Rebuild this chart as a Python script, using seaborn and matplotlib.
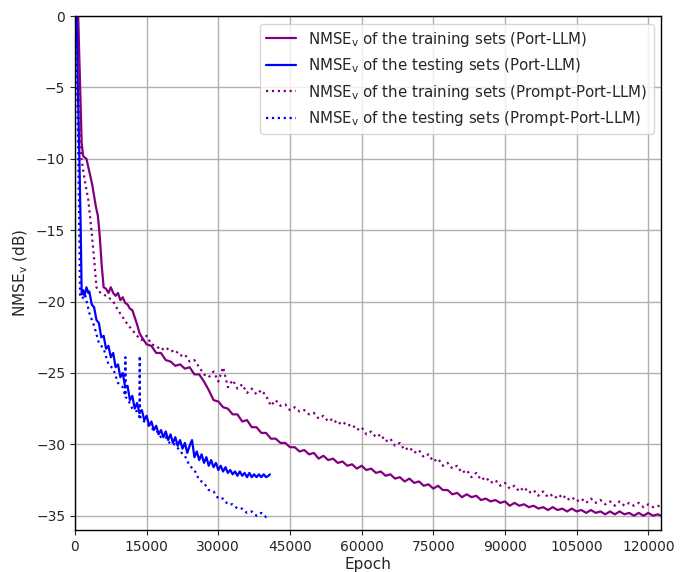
import matplotlib
matplotlib.use("Agg")
import matplotlib.pyplot as plt
import seaborn as sns
import pandas as pd

# ---------------- data ----------------
# Port-LLM, training sets (solid purple)
port_train_epoch = ([500, 1000, 1400, 1700, 2000, 2400, 2800, 3200, 3600, 4000, 4400, 4800, 5200, 5600,
                     6000, 6500, 7000, 7500, 8000, 8500, 9000, 9500, 10000, 10500, 11000, 11500, 12000,
                     12500, 13000, 13500] + list(range(14000, 123000, 1000)) + [122700])
port_train_nmse = [2.0, -4.0, -8.9, -9.8, -9.9, -10.0, -10.6, -11.2, -11.8, -12.6, -13.4, -14.0, -15.5, -17.5,
                   -19.0, -19.1, -19.4, -19.0, -19.4, -19.6, -19.4, -19.9, -19.7, -20.1, -20.2, -20.5, -20.6,
                   -21.1, -21.6, -22.2,
                   -22.5, -23.0, -23.1, -23.6, -23.6, -24.1, -24.2, -24.5, -24.4, -24.7,
                   -24.6, -25.1, -25.1, -25.6, -26.2, -26.9, -27.0, -27.4, -27.5, -27.9,
                   -27.9, -28.4, -28.3, -28.8, -28.8, -29.2, -29.2, -29.6, -29.6, -29.9,
                   -29.9, -30.2, -30.2, -30.5, -30.4, -30.7, -30.6, -31.0, -30.8, -31.1,
                   -31.0, -31.3, -31.2, -31.5, -31.4, -31.7, -31.5, -31.8, -31.7, -32.0,
                   -31.9, -32.2, -32.1, -32.4, -32.3, -32.6, -32.4, -32.7, -32.6, -32.9,
                   -32.8, -33.1, -32.9, -33.2, -33.2, -33.5, -33.4, -33.7, -33.5, -33.7,
                   -33.6, -33.9, -33.8, -34.0, -33.9, -34.1, -34.0, -34.3, -34.1, -34.3,
                   -34.2, -34.4, -34.3, -34.5, -34.4, -34.6, -34.4, -34.6, -34.5, -34.7,
                   -34.5, -34.7, -34.6, -34.8, -34.6, -34.8, -34.7, -34.9, -34.7, -34.9,
                   -34.7, -34.9, -34.8, -35.0, -34.8, -35.0, -34.8, -35.0, -34.9,
                   -35.0]

# Prompt-Port-LLM, training sets (dotted purple)
prompt_train_epoch = ([500, 800, 1000, 1300, 1800, 2300, 2800, 3200, 3500, 4000, 4500, 5000, 5500, 6000,
                       7000, 8000, 9000, 10000, 11000, 12000, 13000] + list(range(14000, 123000, 1000))
                      + [122700])
prompt_train_nmse = [2.0, -4.0, -8.0, -9.9, -11.0, -12.0, -12.9, -14.2, -15.2, -17.0, -19.0, -19.3, -19.4,
                     -19.5, -19.7, -20.0, -20.6, -21.1, -21.6, -22.0, -22.4,
                     -22.7, -22.4, -23.0, -23.1, -23.4, -23.2, -23.5, -23.4, -23.8, -23.7,
                     -24.2, -24.1, -24.6, -25.1, -25.3, -24.9, -25.6, -24.6, -26.0, -25.5,
                     -26.1, -25.8, -26.4, -26.1, -26.5, -26.2, -26.6, -27.3, -26.9, -27.3,
                     -27.2, -27.6, -27.4, -27.7, -27.6, -27.9, -27.8, -28.2, -28.0, -28.4,
                     -28.2, -28.6, -28.4, -28.7, -28.6, -29.0, -28.8, -29.3, -29.1, -29.5,
                     -29.3, -29.8, -29.6, -30.1, -29.9, -30.4, -30.2, -30.6, -30.4, -30.9,
                     -30.7, -31.2, -31.0, -31.5, -31.3, -31.7, -31.5, -32.0, -31.8, -32.3,
                     -32.0, -32.5, -32.3, -32.7, -32.5, -32.9, -32.7, -33.1, -32.9, -33.3,
                     -33.0, -33.4, -33.2, -33.6, -33.3, -33.7, -33.5, -33.8, -33.5, -33.9,
                     -33.7, -34.0, -33.8, -34.1, -33.8, -34.1, -33.9, -34.2, -34.0, -34.3,
                     -34.0, -34.3, -34.1, -34.3, -34.1, -34.4, -34.2, -34.4, -34.3,
                     -34.4]

# Port-LLM, testing sets (solid blue)
port_test_epoch = ([300, 600, 900, 1200, 1400, 1700, 2000, 2400, 2800] + list(range(3000, 41000, 500))
                   + [40800])
port_test_nmse = [2.0, -5.0, -9.6, -15.0, -19.5, -19.2, -19.6, -19.0, -19.4,
                  -19.3, -20.2, -20.4, -21.3, -21.5, -22.5, -22.4, -23.3, -23.1, -23.9,
                  -23.6, -24.6, -24.4, -25.3, -25.0, -26.0, -25.9, -26.9, -26.6, -27.5,
                  -27.1, -27.8, -27.6, -28.3, -28.0, -28.7, -28.4, -29.0, -28.7, -29.3,
                  -29.0, -29.5, -29.1, -29.7, -29.3, -29.9, -29.5, -30.1, -29.7, -30.3,
                  -29.9, -30.6, -30.1, -29.7, -30.9, -30.5, -31.1, -30.7, -31.3, -30.9,
                  -31.5, -31.1, -31.6, -31.3, -31.8, -31.5, -31.9, -31.6, -32.0, -31.8,
                  -32.1, -31.9, -32.2, -31.9, -32.2, -32.0, -32.3, -32.0, -32.3, -32.1,
                  -32.3, -32.1, -32.3, -32.1, -32.3, -32.2,
                  -32.1]

# Prompt-Port-LLM, testing sets (dotted blue)
prompt_test_epoch = [200, 400, 700, 900, 1050, 1500, 2100, 3000, 4000, 5000, 6000, 7000, 8000, 9000,
                     10000, 10500, 10550, 10600, 11000, 12000, 13000, 13500, 13550, 13600, 14000, 15000,
                     16000, 17000, 18000, 19000, 20000, 21000, 22000, 23000, 24000, 25000, 26000, 27000,
                     28000, 29000, 30000, 31000, 32000, 33000, 34000, 35000, 36000, 37000, 38000, 39000,
                     40000, 40800]
prompt_test_nmse = [2.0, -4.0, -9.9, -15.0, -19.5, -19.8, -19.5, -20.8, -21.7, -22.9, -23.3, -24.4, -24.7,
                    -25.7, -26.0, -26.6, -23.9, -26.7, -26.8, -27.5, -27.7, -28.1, -23.8, -28.0, -28.3,
                    -28.5, -28.9, -29.0, -29.5, -29.5, -30.0, -30.0, -30.5, -30.8, -31.5, -31.8, -32.5,
                    -32.7, -33.2, -33.3, -33.8, -33.8, -34.2, -34.2, -34.5, -34.5, -34.8, -34.7, -35.0,
                    -34.8, -35.1, -35.0]

labels = [r"NMSE$_{\rm v}$ of the training sets (Port-LLM)",
          r"NMSE$_{\rm v}$ of the testing sets (Port-LLM)",
          r"NMSE$_{\rm v}$ of the training sets (Prompt-Port-LLM)",
          r"NMSE$_{\rm v}$ of the testing sets (Prompt-Port-LLM)"]
x_ticks = [0, 15000, 30000, 45000, 60000, 75000, 90000, 105000, 120000]
y_ticks = [0, -5, -10, -15, -20, -25, -30, -35]

# ---------------- plot ----------------
sns.set_style("white")
plt.rcParams['font.family'] = ['DejaVu Sans']

fig = plt.figure(figsize=(6.88, 5.72), dpi=100)
ax = fig.add_axes([0.109, 0.0734, 0.852, 0.8986])

series = [
    (port_train_epoch, port_train_nmse, labels[0], "#800080", "-"),
    (port_test_epoch, port_test_nmse, labels[1], "#0000ff", "-"),
    (prompt_train_epoch, prompt_train_nmse, labels[2], "#800080", ":"),
    (prompt_test_epoch, prompt_test_nmse, labels[3], "#0000ff", ":"),
]
for ep, val, lab, col, ls in series:
    df = pd.DataFrame({"Epoch": ep, "NMSE": val})
    sns.lineplot(data=df, x="Epoch", y="NMSE", ax=ax, color=col, linestyle=ls,
                 linewidth=1.6, label=lab, estimator=None, sort=False)

ax.set_xlim(0, 122700)
ax.set_ylim(-36, 0)
ax.set_xticks(x_ticks)
ax.set_xticklabels([str(t) for t in x_ticks])
ax.set_yticks(y_ticks)
ax.set_yticklabels([f"{t}".replace("-", "\u2212") for t in y_ticks])
ax.grid(True, color="#b0b0b0", linewidth=1.0)
ax.tick_params(axis="both", labelsize=10, length=3.5, direction="out", bottom=True, left=True)
for s in ax.spines.values():
    s.set_color("black")
    s.set_linewidth(1.0)
ax.set_xlabel("Epoch", fontsize=11, labelpad=2)
ax.set_ylabel(r"NMSE$_{\rm v}$ (dB)", fontsize=11)
ax.legend(loc="upper right", fontsize=10.8, framealpha=0.8)

fig.savefig("out.png", dpi=100)
